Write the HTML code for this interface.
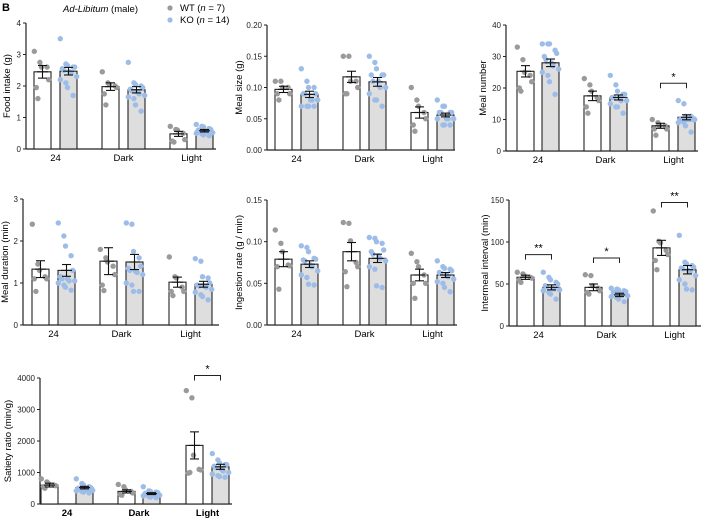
<!DOCTYPE html>
<html><head><meta charset="utf-8"><style>
html,body{margin:0;padding:0;background:#fff;}
svg{display:block;font-family:"Liberation Sans",Arial,sans-serif;}
</style></head><body>
<svg id="fig" width="708" height="520" viewBox="0 0 708 520">
<text x="2" y="11" font-size="11" font-weight="bold">B</text>
<text x="63" y="12" font-size="9.5"><tspan font-style="italic">Ad-Libitum</tspan> (male)</text>
<g>
<circle cx="170" cy="8" r="2.6" fill="#9a9a9a"/>
<text x="180" y="11" font-size="9.5">WT (<tspan font-style="italic">n</tspan> = 7)</text>
<circle cx="170" cy="20" r="2.6" fill="#9dbde8"/>
<text x="180" y="23" font-size="9.5">KO (<tspan font-style="italic">n</tspan> = 14)</text>
</g>
</svg>
<script>
const categories = ["24","Dark","Light"];
// Food intake
const fiWTmean=[2.45,1.98,0.48], fiWTsem=[0.2,0.12,0.08], fiKOmean=[2.47,1.88,0.58], fiKOsem=[0.12,0.1,0.04];
const fiWTpts=[[3.1,2.75,2.6,2.6,2.2,1.95,1.6],[2.45,2.1,2.05,2.0,1.95,1.75,1.4],[0.72,0.62,0.6,0.5,0.3,0.25,0.22]];
const fiKOpts=[[3.5,2.7,2.65,2.6,2.6,2.55,2.5,2.45,2.4,2.3,2.2,2.1,1.95,1.7],[2.75,2.1,2.05,2.0,1.95,1.9,1.85,1.8,1.75,1.7,1.65,1.6,1.4,1.2],[0.78,0.72,0.7,0.65,0.62,0.6,0.58,0.56,0.55,0.52,0.5,0.48,0.45,0.42]];
const fiTicks=[0,1,2,3,4], fiTickLabels=["0","1","2","3","4"];
// Meal size
const msWTmean=[0.097,0.117,0.06], msWTsem=[0.005,0.009,0.009], msKOmean=[0.089,0.109,0.056], msKOsem=[0.005,0.007,0.003];
const msWTpts=[[.11,.11,.10,.10,.09,.09,.08],[.15,.15,.11,.11,.10,.09,.09],[.10,.08,.07,.06,.05,.04,.03]];
const msKOpts=[[.13,.11,.10,.10,.09,.09,.09,.08,.08,.08,.07,.07,.07,.07],[.15,.14,.13,.12,.12,.12,.11,.11,.10,.10,.09,.08,.08,.07],[.08,.07,.07,.06,.06,.06,.06,.05,.05,.05,.05,.04,.04,.04]];
const msTicks=[0,0.05,0.1,0.15,0.2], msTickLabels=["0.00","0.05","0.10","0.15","0.20"];
// Meal number
const mnWTmean=[25.3,17.5,8], mnWTsem=[1.8,1.5,0.8], mnKOmean=[28,17,10.7], mnKOsem=[1.2,0.8,0.8];
const mnWTpts=[[33,29,25,24,22,20,19],[23,21,19,17,16,14,12],[10,9,8,8,7,7,5]];
const mnKOpts=[[34,34,34,32,31,30,29,28,27,26,25,24,22,18],[24,21,19,18,18,17,17,17,16,16,15,14,14,12],[16,15,11,11,10,10,10,10,10,10,9,9,8,6]];
const mnTicks=[0,10,20,30,40], mnTickLabels=["0","10","20","30","40"];
const mnSig=[null,null,{y:21.5,label:"*"}];
// Meal duration
const mdWTmean=[1.33,1.52,1.02], mdWTsem=[0.2,0.32,0.12], mdKOmean=[1.3,1.5,0.97], mdKOsem=[0.14,0.18,0.07];
const mdWTpts=[[2.4,1.45,1.3,1.15,1.1,1.1,0.8],[1.8,1.6,1.5,1.4,1.2,0.95,0.82],[1.62,1.15,1.12,0.9,0.8,0.8,0.7]];
const mdKOpts=[[2.43,2.12,1.88,1.65,1.3,1.15,1.1,1.1,1.05,1.05,1.0,0.95,0.9,0.83],[2.43,2.4,1.75,1.6,1.4,1.35,1.3,1.28,1.25,1.2,1.0,0.95,0.8,0.8],[1.58,1.52,1.15,1.12,1.0,0.95,0.93,0.92,0.9,0.85,0.78,0.72,0.68,0.6]];
const mdTicks=[0,1,2,3], mdTickLabels=["0","1","2","3"];
// Ingestion rate
const irWTmean=[0.079,0.088,0.06], irWTsem=[0.009,0.011,0.007], irKOmean=[0.073,0.08,0.06], irKOsem=[0.004,0.005,0.003];
const irWTpts=[[.114,.098,.088,.072,.071,.07,.043],[.123,.122,.101,.075,.07,.064,.046],[.086,.076,.07,.06,.05,.05,.032]];
const irKOpts=[[.095,.093,.088,.08,.079,.078,.077,.072,.07,.065,.06,.057,.049,.048],[.105,.104,.1,.098,.09,.088,.085,.083,.08,.077,.07,.067,.047,.045],[.077,.07,.068,.067,.065,.063,.062,.06,.058,.055,.052,.05,.045,.04]];
const irTicks=[0,0.05,0.1,0.15], irTickLabels=["0.00","0.05","0.10","0.15"];
// Intermeal interval
const iiWTmean=[58,46,93], iiWTsem=[2.5,4,9], iiKOmean=[46,37,67], iiKOsem=[3,2,5];
const iiWTpts=[[64,62,60,58,57,55,52],[61,60,48,45,42,40,38],[137,101,99,90,85,78,67]];
const iiKOpts=[[64,58,55,52,50,48,47,45,44,43,42,40,38,32],[45,44,43,42,41,40,39,38,37,36,35,34,32,29],[108,76,74,72,70,69,68,66,65,60,55,50,44,43]];
const iiTicks=[0,50,100,150], iiTickLabels=["0","50","100","150"];
const iiSig=[{y:85,label:"**"},{y:81,label:"*"},{y:147,label:"**"}];
// Satiety ratio
const srWTmean=[600,400,1860], srWTsem=[60,50,430], srKOmean=[520,330,1180], srKOsem=[40,30,80];
const srWTpts=[[800,700,650,600,580,550,500],[620,550,450,400,350,300,280],[3600,3370,1550,1100,1080,980,1000]];
const srKOpts=[[800,650,600,550,520,500,480,470,450,430,420,400,380,350],[550,420,400,380,360,340,320,310,300,280,260,240,220,200],[1600,1400,1300,1250,1250,1200,1150,1100,1050,1000,950,900,870,850]];
const srTicks=[0,1000,2000,3000,4000], srTickLabels=["0","1000","2000","3000","4000"];
const srSig=[null,null,{y:4080,label:"*"}];

const NS="http://www.w3.org/2000/svg";
const svg=document.getElementById("fig");
function mk(tag,attrs,parent){const e=document.createElementNS(NS,tag);for(const k in attrs)e.setAttribute(k,attrs[k]);(parent||svg).appendChild(e);return e;}

function panel(cfg){
  const g=mk("g",{});
  
  
  const yS=v=>cfg.y0-(v/cfg.ymax)*(cfg.y0-cfg.ytop);
  const ax=cfg.x0;
  const yaxis=mk("line",{x1:ax,y1:cfg.y0,x2:ax,y2:cfg.ytop,stroke:"#222","stroke-width":1.2},g);
  
  
  const xaxis=mk("line",{x1:ax,y1:cfg.y0,x2:ax+cfg.xlen,y2:cfg.y0,stroke:"#222","stroke-width":1.2},g);
  
  
  cfg.ticks.forEach((t,i)=>{
    const y=yS(t);
    mk("line",{x1:ax-3,y1:y,x2:ax,y2:y,stroke:"#222","stroke-width":1},g);
    const tl=mk("text",{x:ax-5,y:y+3,"font-size":8,"text-anchor":"end",fill:"#222"},g);
    tl.textContent=cfg.tickLabels[i];
    
    
  });
  const midY=(cfg.y0+cfg.ytop)/2;
  const yt=mk("text",{x:cfg.titleX,y:midY,"font-size":9.5,"text-anchor":"middle",transform:`rotate(-90 ${cfg.titleX} ${midY})`},g);
  yt.textContent=cfg.title;
  
  
  const bw=17;
  categories.forEach((c,ci)=>{
    const wl=ax+cfg.off[ci*2], kl=ax+cfg.off[ci*2+1];
    const series=[[wl,cfg.wtM[ci],cfg.wtS[ci],cfg.wtP[ci],"#fff","#9a9a9a","wt"],[kl,cfg.koM[ci],cfg.koS[ci],cfg.koP[ci],"#dedede","#9dbde8","ko"]];
    series.forEach(([l,m,s,pts,fill,dc,nm])=>{
      const b=mk("rect",{x:l,y:yS(m),width:bw,height:cfg.y0-yS(m),fill:fill,stroke:"#222","stroke-width":1.1},g);
      
      
      pts.forEach((v,i)=>{
        const dx=((i%5)-2)*3.6+(i%2?1:-1);
        const d=mk("circle",{cx:l+bw/2+dx,cy:yS(v),r:2.7,fill:dc},g);
        
        
      });
      const cx=l+bw/2;
      const eg=mk("g",{stroke:"#111","stroke-width":1.1},g);
      
      
      mk("line",{x1:cx,y1:yS(m-s),x2:cx,y2:yS(m+s)},eg);
      mk("line",{x1:cx-4.5,y1:yS(m-s),x2:cx+4.5,y2:yS(m-s)},eg);
      mk("line",{x1:cx-4.5,y1:yS(m+s),x2:cx+4.5,y2:yS(m+s)},eg);
      mk("line",{x1:cx-5.5,y1:yS(m),x2:cx+5.5,y2:yS(m)},eg);
    });
    const xl=mk("text",{x:(wl+kl+bw)/2,y:cfg.y0+12,"font-size":9.5,"text-anchor":"middle","font-weight":cfg.boldX?"bold":"normal"},g);
    xl.textContent=c;
    
    
    if(cfg.sig&&cfg.sig[ci]){
      const sg=cfg.sig[ci], y=yS(sg.y), a=wl+bw/2, bb=kl+bw/2;
      const br=mk("path",{d:`M${a} ${y+5}V${y}H${bb}V${y+5}`,fill:"none",stroke:"#222","stroke-width":1},g);
      
      
      const st=mk("text",{x:(a+bb)/2,y:y-3,"font-size":11,"text-anchor":"middle"},g);
      st.textContent=sg.label;
      
      
    }
  });
}
const std=[8,34,76,102,144,170];
panel({name:"food-intake-panel",x0:26,y0:149,ytop:23,ymax:4,xlen:190,off:std,ticks:fiTicks,tickLabels:fiTickLabels,title:"Food intake (g)",titleX:10,wtM:fiWTmean,wtS:fiWTsem,koM:fiKOmean,koS:fiKOsem,wtP:fiWTpts,koP:fiKOpts});
panel({name:"meal-size-panel",x0:267,y0:150,ytop:25,ymax:0.2,xlen:188,off:std,ticks:msTicks,tickLabels:msTickLabels,title:"Meal size (g)",titleX:242,wtM:msWTmean,wtS:msWTsem,koM:msKOmean,koS:msKOsem,wtP:msWTpts,koP:msKOpts});
panel({name:"meal-number-panel",x0:506,y0:151,ytop:25,ymax:40,xlen:192,off:[11,36,78,104,146,172],ticks:mnTicks,tickLabels:mnTickLabels,title:"Meal number",titleX:486,wtM:mnWTmean,wtS:mnWTsem,koM:mnKOmean,koS:mnKOsem,wtP:mnWTpts,koP:mnKOpts,sig:mnSig});
panel({name:"meal-duration-panel",x0:23,y0:325,ytop:199,ymax:3,xlen:196,off:[9,35,77,103,146,172],ticks:mdTicks,tickLabels:mdTickLabels,title:"Meal duration (min)",titleX:8,wtM:mdWTmean,wtS:mdWTsem,koM:mdKOmean,koS:mdKOsem,wtP:mdWTpts,koP:mdKOpts});
panel({name:"ingestion-rate-panel",x0:267,y0:325,ytop:200,ymax:0.15,xlen:190,off:std,ticks:irTicks,tickLabels:irTickLabels,title:"Ingestion rate (g / min)",titleX:242,wtM:irWTmean,wtS:irWTsem,koM:irKOmean,koS:irKOsem,wtP:irWTpts,koP:irKOpts});
panel({name:"intermeal-interval-panel",x0:509,y0:326,ytop:200,ymax:150,xlen:192,off:[8,34,76,102,144,170],ticks:iiTicks,tickLabels:iiTickLabels,title:"Intermeal interval (min)",titleX:488,wtM:iiWTmean,wtS:iiWTsem,koM:iiKOmean,koS:iiKOsem,wtP:iiWTpts,koP:iiKOpts,sig:iiSig});
panel({name:"satiety-ratio-panel",x0:40,y0:504,ytop:378,ymax:4000,xlen:192,off:[1,36,78,103,146,172],ticks:srTicks,tickLabels:srTickLabels,title:"Satiety ratio (min/g)",titleX:11,wtM:srWTmean,wtS:srWTsem,koM:srKOmean,koS:srKOsem,wtP:srWTpts,koP:srKOpts,sig:srSig,boldX:true});
</script>
</body></html>
